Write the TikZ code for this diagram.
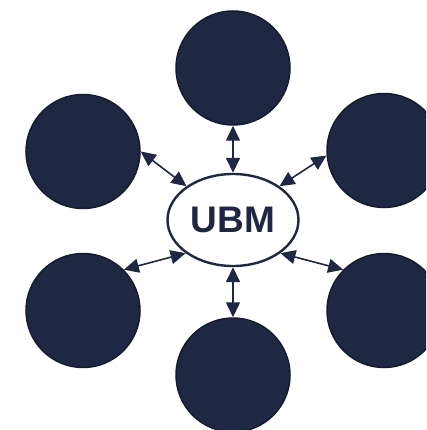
\documentclass[tikz,border=0pt]{standalone}
\usepackage{fontspec}
\setmainfont{Liberation Sans}
\usetikzlibrary{shapes.geometric,arrows.meta}
\definecolor{navy}{HTML}{1F2842}
\definecolor{navyline}{HTML}{151C30}
\tikzset{
    blob/.style={draw=navyline, line width=1.5pt, fill=navy, circle, minimum size=114pt, inner sep=0pt},
    link/.style={navy, line width=1.6pt, {Triangle[length=15pt,width=14pt]}-{Triangle[length=15pt,width=14pt]}}
}
\begin{document}
\begin{tikzpicture}[x=1pt, y=-1pt]

    \useasboundingbox (0,0) rectangle (426,430);
    \clip (0,0) rectangle (426,430);

    % Nodes
    \node at (233, 220) (ubm) [draw=navy, line width=2.4pt, fill=white, ellipse, minimum width=131pt, minimum height=92pt, inner sep=0pt, text=navy, font=\fontsize{37}{40}\selectfont\bfseries] {UBM};
    \node at (233, 68) (top) [blob] {};
    \node at (83, 151.5) (topleft) [blob] {};
    \node at (384, 150.5) (topright) [blob] {};
    \node at (83, 310.5) (botleft) [blob] {};
    \node at (384, 310.5) (botright) [blob] {};
    \node at (233, 375) (bottom) [blob] {};

    % Arrows
    \draw[link] (top.south) -- (ubm.north);
    \draw[link] (ubm.south) -- (bottom.north);
    \draw[link] (topleft.east) -- (ubm.144);
    \draw[link] (topright.185) -- (ubm.36);
    \draw[link] (botleft.45) -- (ubm.215);
    \draw[link] (botright.135) -- (ubm.-35);

\end{tikzpicture}
\end{document}
